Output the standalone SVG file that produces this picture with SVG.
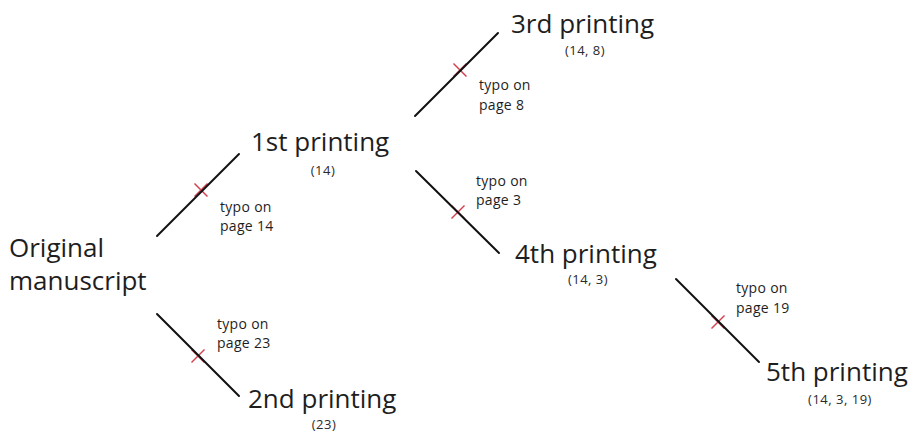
<svg xmlns="http://www.w3.org/2000/svg" width="916" height="432" viewBox="0 0 916 432">
  <style>
    .title { font-family: "Open Sans", "Noto Sans", sans-serif; font-size: 26px; fill: #1e1e1e; }
    .ed { font-family: "Open Sans", "Noto Sans", sans-serif; font-size: 13px; fill: #2a2a2a; text-anchor: middle; letter-spacing: 0.5px; }
    .note { font-family: "Open Sans", "Noto Sans", sans-serif; font-size: 14px; fill: #1e1e1e; letter-spacing: 0.3px; }
    .edge { stroke: #111; stroke-width: 2; fill: none; stroke-linecap: round; }
    .cut { stroke: #d4404e; stroke-width: 1.5; fill: none; }
  </style>
  <defs>
    <!-- red cross marking the change on a branch -->
    <g id="mark">
      <line class="cut" x1="-6.5" y1="-6.5" x2="6.5" y2="6.5"/>
      <line class="cut" x1="-6.5" y1="6.5" x2="6.5" y2="-6.5"/>
    </g>
  </defs>
  <rect width="916" height="432" fill="#ffffff"/>

  <g id="connectors">
    <use href="#mark" x="201" y="190"/>
    <use href="#mark" x="198" y="356"/>
    <use href="#mark" x="460" y="70"/>
    <use href="#mark" x="458" y="212"/>
    <use href="#mark" x="718" y="322"/>
    <line class="edge" x1="157" y1="236" x2="239" y2="154"/>
    <line class="edge" x1="157" y1="314" x2="239" y2="396"/>
    <line class="edge" x1="415" y1="116" x2="498" y2="33"/>
    <line class="edge" x1="416" y1="171" x2="499" y2="253"/>
    <line class="edge" x1="676" y1="279" x2="759" y2="362"/>
    <text class="note" x="220" y="212">typo on</text>
    <text class="note" x="220" y="231">page 14</text>
    <text class="note" x="217" y="329">typo on</text>
    <text class="note" x="217" y="348">page 23</text>
    <text class="note" x="479" y="90">typo on</text>
    <text class="note" x="479" y="110">page 8</text>
    <text class="note" x="476" y="186">typo on</text>
    <text class="note" x="476" y="205">page 3</text>
    <text class="note" x="736" y="293">typo on</text>
    <text class="note" x="736" y="313">page 19</text>
  </g>

  <g id="original">
    <text class="title" x="9" y="257">Original</text>
    <text class="title" x="9" y="290">manuscript</text>
  </g>
  <g id="printing1">
    <text class="title" x="251" y="151">1st printing</text>
    <text class="ed" x="323" y="175">(14)</text>
  </g>
  <g id="printing2">
    <text class="title" x="248" y="408">2nd printing</text>
    <text class="ed" x="324" y="429">(23)</text>
  </g>
  <g id="printing3">
    <text class="title" x="511" y="33">3rd printing</text>
    <text class="ed" x="585" y="55">(14, 8)</text>
  </g>
  <g id="printing4">
    <text class="title" x="515" y="263">4th printing</text>
    <text class="ed" x="588" y="284">(14, 3)</text>
  </g>
  <g id="printing5">
    <text class="title" x="766" y="381">5th printing</text>
    <text class="ed" x="840" y="404">(14, 3, 19)</text>
  </g>
</svg>
